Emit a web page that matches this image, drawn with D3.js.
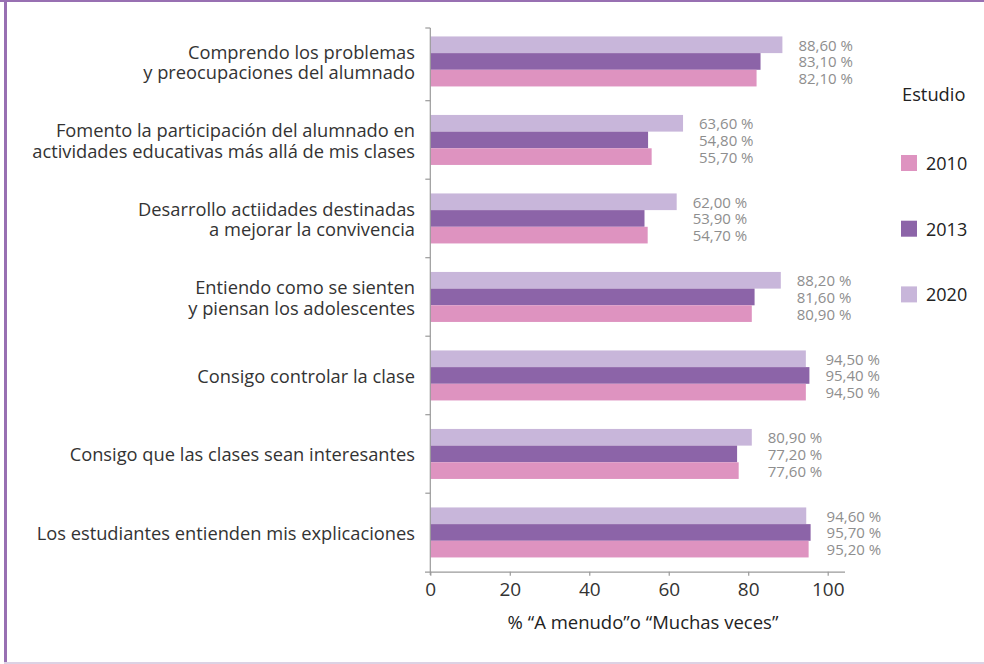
<!DOCTYPE html>
<html>
<head>
<meta charset="utf-8">
<script src="https://cdn.jsdelivr.net/npm/d3@7"></script>
<style>
  html, body { margin: 0; padding: 0; background: #fff; }
  svg { display: block; font-family: "Open Sans", sans-serif; }
</style>
</head>
<body>
<div id="chart"></div>
<script>
// --- data ---
const categories = [
  ["Comprendo los problemas", "y preocupaciones del alumnado"],
  ["Fomento la participación del alumnado en", "actividades educativas más allá de mis clases"],
  ["Desarrollo actiidades destinadas", "a mejorar la convivencia"],
  ["Entiendo como se sienten", "y piensan los adolescentes"],
  ["Consigo controlar la clase"],
  ["Consigo que las clases sean interesantes"],
  ["Los estudiantes entienden mis explicaciones"]
];
const years = ["2020", "2013", "2010"];       // top to bottom inside each group
const legendYears = ["2010", "2013", "2020"];
const values2010 = [82.1, 55.7, 54.7, 80.9, 94.5, 77.6, 95.2];
const values2013 = [83.1, 54.8, 53.9, 81.6, 95.4, 77.2, 95.7];
const values2020 = [88.6, 63.6, 62.0, 88.2, 94.5, 80.9, 94.6];
const xTicks = [0, 20, 40, 60, 80, 100];
const xTitle = "% “A menudo”o “Muchas veces”";
const legendTitle = "Estudio";

const series = { "2010": values2010, "2013": values2013, "2020": values2020 };
const color = d3.scaleOrdinal().domain(["2010", "2013", "2020"]).range(["#de93c0", "#8c64a8", "#c8b6da"]);

// --- setup ---
const width = 984, height = 664;
const svg = d3.select("#chart").append("svg").attr("width", width).attr("height", height);

// frame
svg.append("rect").attr("x", 0).attr("y", 0).attr("width", width).attr("height", 2).attr("fill", "#9870b2");
svg.append("rect").attr("x", 4).attr("y", 0).attr("width", 3).attr("height", height).attr("fill", "#9870b2");
svg.append("rect").attr("x", 4).attr("y", 662).attr("width", width - 4).attr("height", 2).attr("fill", "#dcd2e4");

const x = d3.scaleLinear().domain([0, 100]).range([430.3, 827.7]);
const y = d3.scaleBand().domain(d3.range(categories.length)).range([22.2, 571.7]);
const yInner = d3.scaleBand().domain(years).range([0, 50]);
const groupOffset = (y.bandwidth() - 50) / 2;

// bars
const groups = svg.append("g").selectAll("g").data(categories).join("g")
  .attr("transform", (d, i) => `translate(0,${y(i) + groupOffset})`);

groups.selectAll("rect").data((d, i) => years.map(yr => ({ yr, v: series[yr][i] })))
  .join("rect")
  .attr("x", x(0))
  .attr("y", d => yInner(d.yr))
  .attr("width", d => x(d.v) - x(0))
  .attr("height", yInner.bandwidth())
  .attr("fill", d => color(d.yr));

// value labels
groups.each(function(d, i) {
  const maxV = d3.max(years, yr => series[yr][i]);
  d3.select(this).selectAll("text.val").data(years).join("text")
    .attr("class", "val")
    .attr("x", x(maxV) + 16)
    .attr("y", yr => yInner(yr) + yInner.bandwidth() / 2)
    .attr("dominant-baseline", "central")
    .attr("font-size", 15)
    .attr("fill", "#8e8e8e")
    .text(yr => d3.format(".2f")(series[yr][i]).replace(".", ",") + " %");
});

// category labels
svg.append("g").selectAll("text").data(categories).join("text")
  .attr("text-anchor", "end")
  .attr("font-size", 18.3)
  .attr("fill", "#333")
  .each(function(lines, i) {
    const cy = y(i) + y.bandwidth() / 2;
    d3.select(this).selectAll("tspan").data(lines).join("tspan")
      .attr("x", 415)
      .attr("y", (l, j) => cy + (j - (lines.length - 1) / 2) * 20.5)
      .attr("dominant-baseline", "central")
      .text(l => l);
  });

// y axis line + boundary ticks
const axisColor = "#9a9a9a";
svg.append("line").attr("x1", x(0)).attr("x2", x(0)).attr("y1", 28).attr("y2", 575)
  .attr("stroke", axisColor).attr("stroke-width", 1.2);
const bounds = categories.map((d, i) => Math.max(y(i), 28));
svg.append("g").selectAll("line").data(bounds).join("line")
  .attr("x1", x(0) - 5).attr("x2", x(0)).attr("y1", d => d).attr("y2", d => d)
  .attr("stroke", axisColor).attr("stroke-width", 1.2);

// x axis
const xAxis = svg.append("g").attr("transform", `translate(0,${y.range()[1]})`)
  .call(d3.axisBottom(x).tickValues(xTicks).tickSize(4).tickSizeOuter(0).tickPadding(7));
xAxis.select(".domain").attr("d", `M425,0.5H845`).attr("stroke", axisColor).attr("stroke-width", 1.2);
xAxis.selectAll(".tick line").attr("stroke", axisColor).attr("stroke-width", 1.2);
xAxis.selectAll(".tick text").attr("font-size", 19).attr("fill", "#333")
  .attr("font-family", "Open Sans, sans-serif");

svg.append("text").attr("x", 643).attr("y", 621).attr("text-anchor", "middle")
  .attr("dominant-baseline", "central").attr("font-size", 18.5).attr("fill", "#222")
  .text(xTitle);

// legend
svg.append("text").attr("x", 902).attr("y", 93).attr("dominant-baseline", "central")
  .attr("font-size", 18.3).attr("fill", "#222").text(legendTitle);
const leg = svg.append("g").selectAll("g").data(legendYears).join("g")
  .attr("transform", (d, i) => `translate(901,${163 + i * 65.7})`);
leg.append("rect").attr("x", 0).attr("y", -8).attr("width", 16).attr("height", 16).attr("fill", d => color(d));
leg.append("text").attr("x", 25).attr("y", 0).attr("dominant-baseline", "central")
  .attr("font-size", 18).attr("fill", "#222").text(d => d);
</script>
</body>
</html>
